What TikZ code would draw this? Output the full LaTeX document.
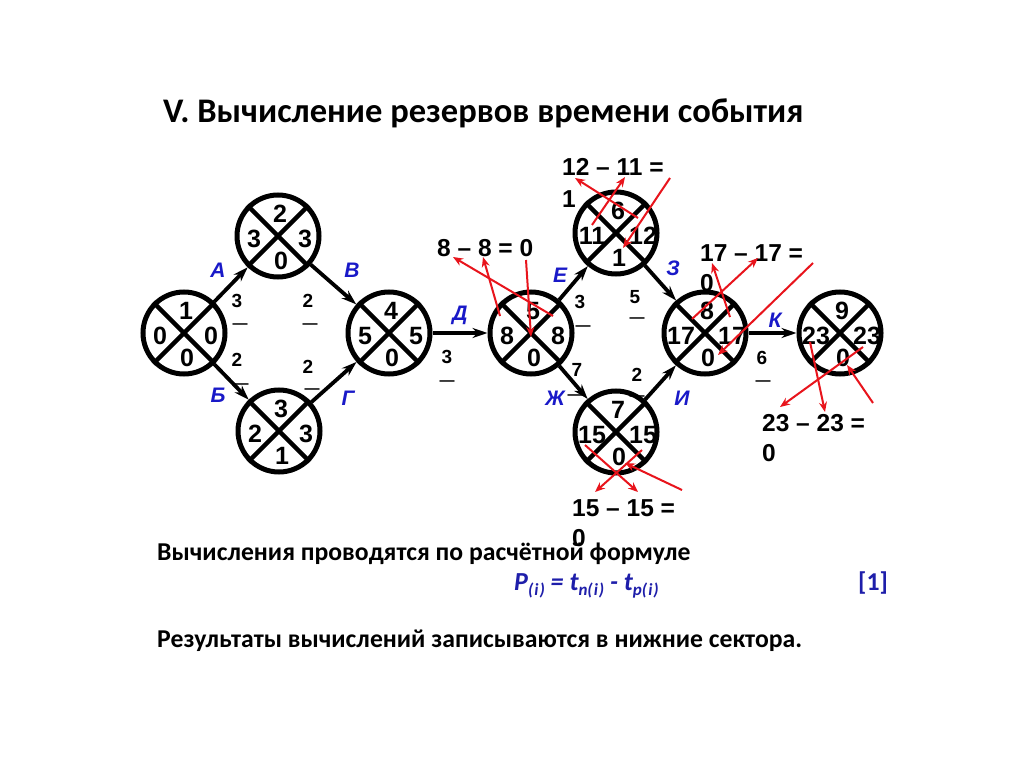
\documentclass[tikz,border=0pt]{standalone}
\usepackage{fontspec}
\setmainfont{Carlito}
\newfontfamily\arialf{Liberation Sans}
\usetikzlibrary{arrows.meta}
\definecolor{lblue}{RGB}{25,25,200}
\definecolor{fblue}{RGB}{30,30,170}
\definecolor{myred}{RGB}{232,20,28}
\newcommand\evnode[7]{%
  \node[ev] (#1) at (#2,#3) {};
  \draw[diag] (#1.45) -- (#1.225) (#1.135) -- (#1.-45);
  \node[num] (#1t) at (#2+2,#3-22) {#4};
  \node[num] (#1l) at (#2-24,#3+3) {#5};
  \node[num] (#1r) at (#2+27,#3+3) {#6};
  \node[num] (#1b) at (#2+3,#3+25) {#7};
}
\begin{document}
\begin{tikzpicture}[x=1pt,y=-1pt,
 ev/.style={circle, draw, line width=5pt, minimum size=82pt, inner sep=0pt},
 diag/.style={line width=4.3pt},
 num/.style={font=\arialf\bfseries\fontsize{25}{25}\selectfont, inner sep=0pt},
 lab/.style={font=\arialf\bfseries\itshape\fontsize{21}{21}\selectfont, text=lblue, inner sep=0pt},
 dur/.style={font=\arialf\bfseries\fontsize{19}{19}\selectfont, inner sep=0pt},
 bar/.style={font=\arialf\bfseries\fontsize{15}{15}\selectfont, inner sep=0pt},
 edge/.style={line width=3.8pt, -{Stealth[length=15pt,width=10pt]}},
 redarr/.style={draw=myred, line width=2pt, -{Stealth[length=10pt,width=8pt]}},
 note/.style={font=\arialf\bfseries\fontsize{24.5}{24.5}\selectfont, anchor=base west, inner sep=0pt},
 txt/.style={font=\bfseries\fontsize{25.7}{25.7}\selectfont, anchor=base west, inner sep=0pt}]
\useasboundingbox[fill=white] (0,0) rectangle (1024,767);

% title and text
\node[txt, font=\bfseries\fontsize{34.5}{34.5}\selectfont] (title) at (163,123) {V. Вычисление резервов времени события};
\node[txt] (line1) at (157,560) {Вычисления проводятся по расчётной формуле};
\node[txt, text=fblue, font=\bfseries\itshape\fontsize{26}{26}\selectfont] (formula) at (514,590)
  {P\raisebox{-5pt}{\fontsize{17}{17}\selectfont(\kern1pt i\kern1pt)} = t\raisebox{-5pt}{\fontsize{17}{17}\selectfont n(\kern1pt i\kern1pt)} - t\raisebox{-5pt}{\fontsize{17}{17}\selectfont p(\kern1pt i\kern1pt)}};
\node[txt, text=fblue] (ref) at (858,590) {[1]};
\node[txt] (line2) at (157,647) {Результаты вычислений записываются в нижние сектора.};

% events
\evnode{n1}{184}{333}{1}{0}{0}{0}
\evnode{n2}{278}{236}{2}{3}{3}{0}
\evnode{n3}{279}{431}{3}{2}{3}{1}
\evnode{n4}{389}{333}{4}{5}{5}{0}
\evnode{n5}{531}{333}{5}{8}{8}{0}
\evnode{n6}{616}{233}{6}{11}{12}{1}
\evnode{n7}{616}{432}{7}{15}{15}{0}
\evnode{n8}{705}{333}{8}{17}{17}{0}
\evnode{n9}{840}{333}{9}{23}{23}{0}

% works
\draw[edge] (n1) -- (n2);
\draw[edge] (n1) -- (n3);
\draw[edge] (n2) -- (n4);
\draw[edge] (n3) -- (n4);
\draw[edge] (n4) -- (n5);
\draw[edge] (n5) -- (n6);
\draw[edge] (n5) -- (n7);
\draw[edge] (n6) -- (n8);
\draw[edge] (n7) -- (n8);
\draw[edge] (n8) -- (n9);

% work labels
\node[lab] (la) at (218,270) {А};
\node[lab] (lb) at (218,395) {Б};
\node[lab] (lv) at (352,270) {В};
\node[lab] (lg) at (348,398) {Г};
\node[lab] (ld) at (460,315) {Д};
\node[lab] (le) at (560,275) {Е};
\node[lab] (lzh) at (555,398) {Ж};
\node[lab] (lz) at (673,268) {З};
\node[lab] (li) at (682,398) {И};
\node[lab] (lk) at (775,320) {К};

% durations
\foreach \k/\v/\x/\y/\bx/\by in {1/3/237/301/240/326, 2/2/237/360/241/386, 3/2/308/301/310/326,
  4/2/308/367/312/391, 5/3/447/357/447/383, 6/3/580/302/583/328, 7/5/635/297/637/320,
  8/7/577/370/575/397, 9/2/637/375/637/398, 10/6/762/358/763/383}{
  \node[dur] (d\k) at (\x,\y) {\v};
  \node[bar] (db\k) at (\bx,\by) {—};
}

% notes
\node[note] (t5) at (437,256) {8 – 8 = 0};
\node[note] (t6) at (562,176) {12 – 11 =};
\node[note] (t6b) at (562,208) {1};
\node[note] (t8) at (700,261) {17 – 17 =};
\node[note] (t8b) at (700,291) {0};
\node[note] (t9) at (762,431) {23 – 23 =};
\node[note] (t9b) at (762,461) {0};
\node[note] (t7) at (572,516) {15 – 15 =};
\node[note] (t7b) at (572,546) {0};

% red arrows
\foreach \k/\ax/\ay/\bx/\by in {1/553/316/453/257, 2/500/316/483/257, 3/526/260/531/337,
  4/638/218/575/178, 5/592/225/625/177, 6/670/178/623/248,
  7/692/319/758/258, 8/730/317/712/263, 9/813/263/718/355,
  10/810/342/825/412, 11/863/347/780/407, 12/873/403/847/365,
  13/585/445/638/492, 14/642/450/595/492, 15/682/490/625/463}{
  \coordinate (ra\k) at (\ax,\ay);
  \coordinate (rb\k) at (\bx,\by);
  \draw[redarr] (ra\k) -- (rb\k);
}
\end{tikzpicture}
\end{document}
